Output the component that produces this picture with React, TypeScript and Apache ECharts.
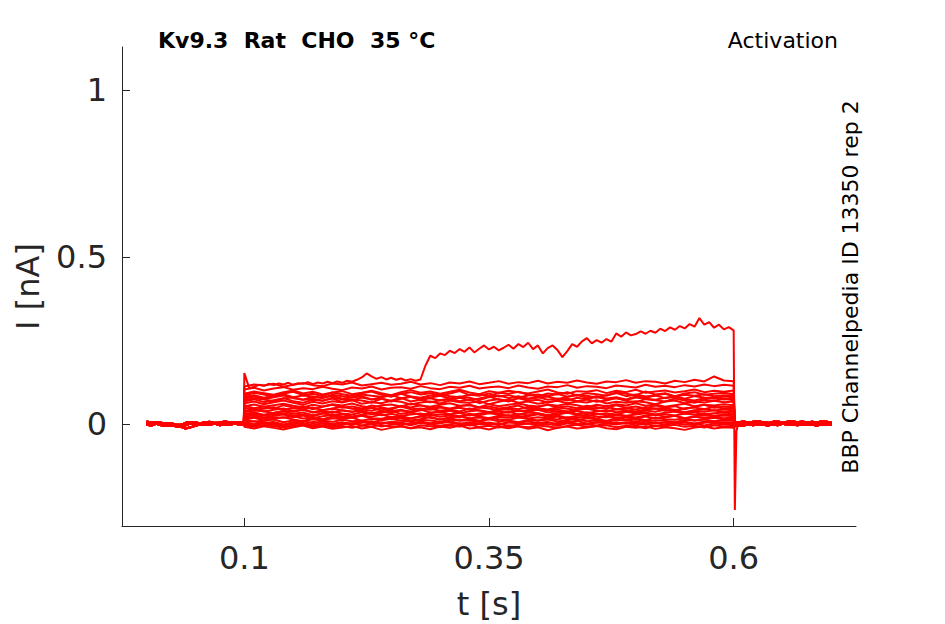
import React, { useEffect, useRef } from "react";
import * as echarts from "echarts";

// ---- time grids (s) ----
const PRE_T = [0.000, 0.005, 0.010, 0.015, 0.020, 0.025, 0.030, 0.035, 0.040, 0.045, 0.050, 0.055, 0.060, 0.065, 0.070, 0.075, 0.080, 0.085, 0.090, 0.095, 0.0995];
const PULSE_T = [0.10, 0.11, 0.12, 0.13, 0.14, 0.15, 0.16, 0.17, 0.18, 0.19, 0.20, 0.21, 0.22, 0.23, 0.24, 0.25, 0.26, 0.27, 0.28, 0.29, 0.30, 0.31, 0.32, 0.33, 0.34, 0.35, 0.36, 0.37, 0.38, 0.39, 0.40, 0.41, 0.42, 0.43, 0.44, 0.45, 0.46, 0.47, 0.48, 0.49, 0.50, 0.51, 0.52, 0.53, 0.54, 0.55, 0.56, 0.57, 0.58, 0.59, 0.60];
const POST_T = [0.601, 0.605, 0.610, 0.615, 0.620, 0.625, 0.630, 0.635, 0.640, 0.645, 0.650, 0.655, 0.660, 0.665, 0.670, 0.675, 0.680, 0.685, 0.690, 0.695, 0.700];
const TOP_T = [0.100, 0.105, 0.110, 0.115, 0.120, 0.125, 0.130, 0.135, 0.140, 0.145, 0.150, 0.155, 0.160, 0.165, 0.170, 0.175, 0.180, 0.185, 0.190, 0.195, 0.200, 0.205, 0.210, 0.215, 0.220, 0.225, 0.230, 0.235, 0.240, 0.245, 0.250, 0.255, 0.260, 0.265, 0.270, 0.275, 0.280, 0.285, 0.290, 0.295, 0.300, 0.305, 0.310, 0.315, 0.320, 0.325, 0.330, 0.335, 0.340, 0.345, 0.350, 0.355, 0.360, 0.365, 0.370, 0.375, 0.380, 0.385, 0.390, 0.395, 0.400, 0.405, 0.410, 0.415, 0.420, 0.425, 0.430, 0.435, 0.440, 0.445, 0.450, 0.455, 0.460, 0.465, 0.470, 0.475, 0.480, 0.485, 0.490, 0.495, 0.500, 0.505, 0.510, 0.515, 0.520, 0.525, 0.530, 0.535, 0.540, 0.545, 0.550, 0.555, 0.560, 0.565, 0.570, 0.575, 0.580, 0.585, 0.590, 0.595, 0.600];
const SPIKE_T = [0.6012, 0.6028];

// ---- baselines (nA) ----
const PRE_A = [0.004, 0.002, 0.003, 0.001, -0.002, 0.000, -0.006, -0.004, -0.003, 0.002, 0.001, 0.003, 0.000, 0.004, 0.002, 0.001, 0.003, 0.000, 0.002, 0.003, 0.002];
const PRE_B = [-0.002, -0.004, 0.001, -0.003, -0.005, -0.004, -0.006, -0.008, -0.013, -0.009, -0.005, 0.000, -0.002, -0.001, 0.001, -0.003, 0.000, -0.002, 0.001, -0.001, 0.000];
const PRE_C = [0.008, 0.005, 0.006, 0.004, 0.002, 0.003, -0.001, -0.002, 0.004, 0.006, 0.005, 0.003, 0.006, 0.007, 0.004, 0.005, 0.008, 0.006, 0.004, 0.006, 0.005];
const POST_A = [0.002, 0.004, 0.001, 0.003, 0.000, 0.002, 0.004, 0.001, 0.003, 0.005, 0.002, 0.000, 0.003, 0.004, 0.001, 0.002, 0.004, 0.003, 0.001, 0.002, 0.003];
const POST_B = [-0.006, -0.003, -0.004, -0.001, -0.003, 0.000, -0.002, -0.004, -0.001, -0.003, 0.001, -0.002, 0.000, -0.003, -0.001, 0.000, -0.002, -0.004, -0.001, 0.000, -0.002];
const POST_C = [0.007, 0.006, 0.008, 0.005, 0.007, 0.009, 0.006, 0.004, 0.007, 0.008, 0.005, 0.007, 0.009, 0.006, 0.008, 0.005, 0.007, 0.006, 0.008, 0.007, 0.005];

// ---- largest trace (nA) ----
const TOP = [0.153, 0.108, 0.112, 0.118, 0.115, 0.121, 0.117, 0.122, 0.119, 0.124, 0.118, 0.123, 0.121, 0.126, 0.120, 0.125, 0.122, 0.127, 0.123, 0.128, 0.124, 0.130, 0.127, 0.133, 0.140, 0.152, 0.143, 0.136, 0.141, 0.134, 0.139, 0.133, 0.137, 0.131, 0.135, 0.130, 0.134, 0.175, 0.205, 0.198, 0.212, 0.207, 0.220, 0.213, 0.225, 0.217, 0.230, 0.215, 0.226, 0.236, 0.224, 0.232, 0.221, 0.229, 0.238, 0.226, 0.240, 0.231, 0.244, 0.225, 0.236, 0.212, 0.228, 0.236, 0.222, 0.201, 0.219, 0.240, 0.232, 0.248, 0.258, 0.242, 0.252, 0.244, 0.255, 0.247, 0.272, 0.262, 0.275, 0.266, 0.270, 0.278, 0.271, 0.280, 0.274, 0.286, 0.279, 0.290, 0.283, 0.294, 0.287, 0.300, 0.292, 0.318, 0.298, 0.306, 0.289, 0.298, 0.284, 0.291, 0.281];
const SPIKE_V = [-0.257, -0.02];

// ---- other traces during the pulse (nA) ----
const T1 = [0.113, 0.119, 0.116, 0.121, 0.112, 0.118, 0.123, 0.117, 0.114, 0.122, 0.119, 0.125, 0.116, 0.120, 0.124, 0.118, 0.121, 0.127, 0.119, 0.123, 0.117, 0.125, 0.122, 0.128, 0.120, 0.124, 0.129, 0.121, 0.126, 0.123, 0.130, 0.122, 0.127, 0.124, 0.131, 0.125, 0.121, 0.128, 0.126, 0.132, 0.124, 0.129, 0.127, 0.122, 0.130, 0.126, 0.133, 0.128, 0.143, 0.131, 0.129];
const T2 = [0.104, 0.109, 0.101, 0.107, 0.111, 0.103, 0.108, 0.105, 0.112, 0.106, 0.102, 0.110, 0.107, 0.113, 0.104, 0.109, 0.111, 0.106, 0.114, 0.108, 0.105, 0.112, 0.109, 0.115, 0.107, 0.111, 0.113, 0.108, 0.116, 0.110, 0.106, 0.113, 0.111, 0.117, 0.109, 0.114, 0.112, 0.108, 0.116, 0.113, 0.110, 0.118, 0.112, 0.115, 0.111, 0.117, 0.113, 0.119, 0.114, 0.118, 0.115];
const T3 = [0.091, 0.098, 0.093, 0.088, 0.096, 0.101, 0.092, 0.097, 0.089, 0.095, 0.099, 0.090, 0.094, 0.100, 0.093, 0.087, 0.096, 0.102, 0.094, 0.098, 0.091, 0.097, 0.103, 0.095, 0.090, 0.099, 0.094, 0.100, 0.096, 0.092, 0.098, 0.104, 0.095, 0.091, 0.099, 0.097, 0.102, 0.093, 0.100, 0.096, 0.103, 0.094, 0.098, 0.101, 0.095, 0.099, 0.104, 0.096, 0.100, 0.097, 0.101];
const T4 = [0.082, 0.087, 0.079, 0.085, 0.090, 0.081, 0.086, 0.083, 0.078, 0.088, 0.084, 0.080, 0.089, 0.085, 0.082, 0.087, 0.091, 0.083, 0.079, 0.086, 0.090, 0.084, 0.081, 0.088, 0.085, 0.092, 0.083, 0.087, 0.080, 0.086, 0.089, 0.084, 0.091, 0.082, 0.088, 0.085, 0.079, 0.087, 0.093, 0.084, 0.089, 0.083, 0.086, 0.091, 0.082, 0.088, 0.085, 0.090, 0.084, 0.087, 0.086];
const T5 = [0.072, 0.078, 0.074, 0.069, 0.077, 0.081, 0.073, 0.076, 0.070, 0.079, 0.075, 0.071, 0.080, 0.074, 0.077, 0.068, 0.076, 0.082, 0.073, 0.078, 0.071, 0.075, 0.079, 0.072, 0.077, 0.083, 0.074, 0.070, 0.078, 0.076, 0.081, 0.073, 0.077, 0.071, 0.079, 0.075, 0.082, 0.074, 0.078, 0.072, 0.080, 0.076, 0.073, 0.079, 0.084, 0.075, 0.071, 0.078, 0.081, 0.074, 0.077];
const T6 = [0.063, 0.068, 0.060, 0.066, 0.071, 0.064, 0.058, 0.067, 0.062, 0.069, 0.065, 0.072, 0.061, 0.066, 0.063, 0.070, 0.067, 0.059, 0.065, 0.068, 0.062, 0.071, 0.066, 0.064, 0.069, 0.060, 0.067, 0.073, 0.064, 0.068, 0.061, 0.066, 0.070, 0.063, 0.068, 0.065, 0.072, 0.062, 0.067, 0.064, 0.069, 0.066, 0.060, 0.068, 0.071, 0.063, 0.067, 0.065, 0.070, 0.066, 0.068];
const T7 = [0.054, 0.059, 0.052, 0.057, 0.061, 0.055, 0.050, 0.058, 0.053, 0.060, 0.056, 0.062, 0.054, 0.049, 0.057, 0.059, 0.053, 0.061, 0.056, 0.052, 0.058, 0.063, 0.055, 0.057, 0.051, 0.060, 0.054, 0.058, 0.062, 0.056, 0.053, 0.059, 0.055, 0.061, 0.057, 0.050, 0.058, 0.054, 0.060, 0.056, 0.063, 0.055, 0.059, 0.052, 0.057, 0.061, 0.054, 0.058, 0.056, 0.060, 0.057];
const T8 = [0.049, 0.044, 0.046, 0.051, 0.043, 0.048, 0.045, 0.050, 0.042, 0.047, 0.052, 0.046, 0.044, 0.049, 0.041, 0.048, 0.053, 0.045, 0.047, 0.043, 0.050, 0.046, 0.049, 0.044, 0.051, 0.047, 0.042, 0.049, 0.045, 0.052, 0.048, 0.044, 0.050, 0.046, 0.043, 0.049, 0.047, 0.053, 0.045, 0.048, 0.044, 0.051, 0.046, 0.049, 0.042, 0.048, 0.050, 0.045, 0.052, 0.047, 0.049];
const T9 = [0.036, 0.041, 0.039, 0.033, 0.040, 0.037, 0.043, 0.035, 0.038, 0.034, 0.042, 0.037, 0.040, 0.032, 0.039, 0.036, 0.041, 0.038, 0.044, 0.035, 0.037, 0.040, 0.033, 0.039, 0.042, 0.036, 0.038, 0.034, 0.041, 0.037, 0.043, 0.035, 0.039, 0.036, 0.040, 0.033, 0.038, 0.042, 0.036, 0.039, 0.035, 0.041, 0.037, 0.044, 0.038, 0.034, 0.040, 0.037, 0.042, 0.036, 0.039];
const T10 = [0.027, 0.031, 0.025, 0.030, 0.033, 0.026, 0.029, 0.024, 0.032, 0.028, 0.030, 0.023, 0.028, 0.034, 0.027, 0.031, 0.025, 0.029, 0.032, 0.026, 0.030, 0.028, 0.024, 0.031, 0.027, 0.033, 0.029, 0.025, 0.030, 0.027, 0.032, 0.026, 0.029, 0.034, 0.028, 0.024, 0.031, 0.027, 0.030, 0.025, 0.029, 0.033, 0.027, 0.030, 0.026, 0.032, 0.028, 0.031, 0.025, 0.029, 0.030];
const T11 = [0.018, 0.022, 0.016, 0.021, 0.019, 0.024, 0.017, 0.020, 0.015, 0.023, 0.019, 0.021, 0.025, 0.018, 0.016, 0.022, 0.020, 0.017, 0.023, 0.019, 0.014, 0.021, 0.024, 0.018, 0.020, 0.016, 0.022, 0.019, 0.025, 0.017, 0.021, 0.018, 0.023, 0.015, 0.020, 0.022, 0.017, 0.024, 0.019, 0.021, 0.016, 0.023, 0.018, 0.020, 0.025, 0.017, 0.022, 0.019, 0.021, 0.018, 0.020];
const T12 = [0.012, 0.008, 0.010, 0.014, 0.006, 0.011, 0.009, 0.015, 0.010, 0.007, 0.013, 0.009, 0.011, 0.005, 0.012, 0.016, 0.010, 0.008, 0.013, 0.011, 0.007, 0.014, 0.010, 0.012, 0.008, 0.015, 0.009, 0.011, 0.006, 0.013, 0.010, 0.014, 0.008, 0.012, 0.016, 0.009, 0.011, 0.007, 0.013, 0.010, 0.015, 0.008, 0.012, 0.010, 0.006, 0.013, 0.011, 0.014, 0.009, 0.012, 0.010];
const T13 = [0.004, 0.000, 0.006, 0.002, -0.002, 0.005, 0.001, 0.007, 0.003, -0.001, 0.004, 0.002, 0.008, 0.000, 0.005, 0.003, -0.003, 0.004, 0.006, 0.001, 0.003, 0.007, -0.001, 0.004, 0.002, 0.005, 0.000, 0.006, 0.003, 0.001, 0.005, -0.002, 0.004, 0.007, 0.002, 0.000, 0.005, 0.003, 0.006, 0.001, 0.004, -0.001, 0.003, 0.006, 0.002, 0.005, 0.000, 0.004, 0.007, 0.003, 0.004];
const T14 = [-0.004, -0.008, -0.002, -0.006, -0.010, -0.005, -0.001, -0.007, -0.003, -0.009, -0.005, -0.011, -0.004, -0.007, -0.002, -0.008, -0.006, -0.012, -0.003, -0.006, -0.009, -0.004, -0.007, -0.001, -0.008, -0.005, -0.010, -0.003, -0.006, -0.009, -0.004, -0.007, -0.011, -0.005, -0.002, -0.008, -0.006, -0.003, -0.009, -0.005, -0.007, -0.012, -0.004, -0.006, -0.002, -0.008, -0.005, -0.010, -0.003, -0.007, -0.005];
const T15 = [0.086, 0.094, 0.089, 0.083, 0.092, 0.097, 0.087, 0.091, 0.084, 0.095, 0.090, 0.085, 0.093, 0.098, 0.088, 0.082, 0.091, 0.096, 0.089, 0.093, 0.086, 0.092, 0.099, 0.087, 0.090, 0.084, 0.094, 0.091, 0.097, 0.088, 0.083, 0.092, 0.089, 0.096, 0.086, 0.093, 0.090, 0.085, 0.095, 0.091, 0.087, 0.098, 0.089, 0.093, 0.084, 0.092, 0.096, 0.088, 0.091, 0.094, 0.090];
const T16 = [0.068, 0.075, 0.066, 0.072, 0.078, 0.069, 0.064, 0.073, 0.070, 0.077, 0.067, 0.074, 0.071, 0.065, 0.076, 0.070, 0.079, 0.068, 0.073, 0.066, 0.072, 0.077, 0.069, 0.074, 0.063, 0.071, 0.075, 0.068, 0.078, 0.070, 0.073, 0.065, 0.072, 0.076, 0.069, 0.074, 0.067, 0.071, 0.079, 0.070, 0.066, 0.075, 0.072, 0.068, 0.077, 0.071, 0.064, 0.073, 0.070, 0.076, 0.072];
const T17 = [0.055, 0.048, 0.053, 0.046, 0.057, 0.050, 0.054, 0.045, 0.052, 0.058, 0.049, 0.053, 0.047, 0.056, 0.051, 0.044, 0.055, 0.050, 0.057, 0.048, 0.052, 0.046, 0.054, 0.059, 0.049, 0.053, 0.047, 0.051, 0.056, 0.045, 0.052, 0.058, 0.050, 0.054, 0.048, 0.055, 0.051, 0.046, 0.057, 0.049, 0.053, 0.047, 0.056, 0.050, 0.054, 0.045, 0.052, 0.058, 0.049, 0.053, 0.051];
const T18 = [0.030, 0.036, 0.028, 0.034, 0.039, 0.031, 0.035, 0.027, 0.033, 0.038, 0.032, 0.029, 0.036, 0.030, 0.034, 0.040, 0.031, 0.035, 0.028, 0.033, 0.037, 0.030, 0.034, 0.026, 0.032, 0.036, 0.031, 0.038, 0.029, 0.035, 0.033, 0.027, 0.034, 0.039, 0.031, 0.036, 0.030, 0.033, 0.028, 0.037, 0.032, 0.035, 0.029, 0.034, 0.038, 0.031, 0.036, 0.030, 0.033, 0.035, 0.032];
const T19 = [0.013, 0.019, 0.011, 0.016, 0.021, 0.014, 0.009, 0.017, 0.012, 0.018, 0.015, 0.020, 0.010, 0.016, 0.013, 0.019, 0.017, 0.011, 0.015, 0.022, 0.014, 0.018, 0.012, 0.016, 0.010, 0.019, 0.015, 0.013, 0.020, 0.016, 0.011, 0.017, 0.014, 0.021, 0.012, 0.018, 0.015, 0.010, 0.019, 0.014, 0.017, 0.012, 0.020, 0.015, 0.013, 0.018, 0.011, 0.016, 0.019, 0.014, 0.016];
const T20 = [0.001, -0.004, 0.003, -0.002, -0.006, 0.000, 0.004, -0.003, 0.002, -0.005, -0.001, 0.003, -0.004, 0.001, -0.007, -0.002, 0.002, -0.003, 0.004, -0.001, -0.005, 0.000, 0.003, -0.004, 0.001, -0.002, 0.004, -0.006, -0.001, 0.002, -0.003, 0.001, -0.005, 0.003, -0.002, 0.000, -0.004, 0.002, -0.001, 0.004, -0.003, 0.001, -0.006, 0.000, 0.003, -0.002, 0.001, -0.004, 0.002, -0.001, 0.000];
const T21 = [0.077, 0.083, 0.075, 0.081, 0.086, 0.078, 0.073, 0.082, 0.079, 0.085, 0.076, 0.080, 0.084, 0.074, 0.081, 0.087, 0.078, 0.082, 0.075, 0.080, 0.085, 0.077, 0.083, 0.079, 0.072, 0.081, 0.086, 0.078, 0.084, 0.076, 0.080, 0.083, 0.075, 0.082, 0.087, 0.079, 0.084, 0.077, 0.081, 0.074, 0.083, 0.079, 0.086, 0.078, 0.082, 0.076, 0.084, 0.080, 0.077, 0.083, 0.081];
const T22 = [0.040, 0.045, 0.038, 0.043, 0.047, 0.039, 0.044, 0.036, 0.042, 0.046, 0.041, 0.037, 0.045, 0.040, 0.048, 0.039, 0.043, 0.035, 0.042, 0.046, 0.040, 0.044, 0.038, 0.047, 0.041, 0.036, 0.043, 0.045, 0.039, 0.042, 0.048, 0.040, 0.044, 0.037, 0.043, 0.046, 0.041, 0.039, 0.045, 0.042, 0.038, 0.044, 0.047, 0.040, 0.043, 0.036, 0.042, 0.045, 0.041, 0.044, 0.042];
const T23 = [0.022, 0.027, 0.020, 0.025, 0.029, 0.021, 0.026, 0.018, 0.024, 0.028, 0.023, 0.019, 0.026, 0.022, 0.030, 0.021, 0.025, 0.017, 0.024, 0.028, 0.022, 0.026, 0.020, 0.029, 0.023, 0.018, 0.025, 0.027, 0.021, 0.024, 0.030, 0.022, 0.026, 0.019, 0.025, 0.028, 0.023, 0.021, 0.027, 0.024, 0.020, 0.026, 0.029, 0.022, 0.025, 0.018, 0.024, 0.027, 0.023, 0.026, 0.024];
const T24 = [0.004, 0.009, 0.002, 0.007, -0.001, 0.005, 0.010, 0.003, 0.008, 0.001, 0.006, -0.002, 0.004, 0.009, 0.002, 0.007, 0.005, -0.001, 0.008, 0.003, 0.006, 0.010, 0.001, 0.005, 0.008, 0.002, -0.003, 0.006, 0.004, 0.009, 0.003, 0.007, 0.000, 0.005, 0.010, 0.002, 0.006, 0.008, 0.001, 0.004, 0.009, 0.003, 0.006, -0.002, 0.005, 0.007, 0.002, 0.008, 0.004, 0.006, 0.005];
const T25 = [-0.008, -0.013, -0.006, -0.011, -0.016, -0.009, -0.004, -0.012, -0.007, -0.014, -0.010, -0.005, -0.013, -0.008, -0.017, -0.011, -0.006, -0.012, -0.009, -0.015, -0.007, -0.011, -0.004, -0.013, -0.010, -0.016, -0.008, -0.012, -0.006, -0.014, -0.009, -0.018, -0.011, -0.007, -0.013, -0.010, -0.005, -0.012, -0.015, -0.008, -0.011, -0.006, -0.014, -0.009, -0.012, -0.017, -0.010, -0.007, -0.013, -0.009, -0.011];

// ---- axis ticks ----
const X_TICKS = [0.1, 0.35, 0.6];
const Y_TICKS = [0, 0.5, 1];

const TITLE = "Kv9.3  Rat  CHO  35 °C";
const PROTOCOL = "Activation";
const SOURCE = "BBP Channelpedia ID 13350 rep 2";

const FONT = "DejaVu Sans";
const INK = "#262626";
const RED = "#ff0000";

type Pt = [number, number];
const zip = (ts: number[], vs: number[]): Pt[] =>
  ts.map((t, i) => [t, vs[i]] as Pt).filter((p) => p[1] !== undefined);

export default function App() {
  const ref = useRef<HTMLDivElement>(null);
  useEffect(() => {
    if (!ref.current) return;
    const chart = echarts.init(ref.current, undefined, { renderer: "svg" });
    const pres = [PRE_A, PRE_B, PRE_C];
    const posts = [POST_A, POST_B, POST_C];
    const others = [T1, T2, T3, T4, T5, T6, T7, T8, T9, T10, T11, T12, T13, T14, T15, T16, T17, T18, T19, T20, T21, T22, T23, T24, T25];
    const lineBase = {
      type: "line",
      showSymbol: false,
      symbol: "none",
      silent: true,
      lineStyle: { color: RED, width: 2 },
      itemStyle: { color: RED },
    };
    const series: any[] = others.map((tr, i) => ({
      ...lineBase,
      data: [
        ...zip(PRE_T, pres[i % 3]),
        ...zip(PULSE_T, tr),
        ...zip(POST_T, posts[i % 3]),
      ],
    }));
    series.push({
      ...lineBase,
      data: [
        ...zip(PRE_T, PRE_A),
        ...zip(TOP_T, TOP),
        ...zip(SPIKE_T, SPIKE_V),
        ...zip(POST_T.slice(1), POST_A.slice(1)),
      ],
    });
    chart.setOption({
      animation: false,
      backgroundColor: "#ffffff",
      grid: { left: 122, right: 89, top: 47, bottom: 98, containLabel: false, outerBoundsMode: "none" },
      xAxis: {
        type: "value",
        min: -0.025,
        max: 0.725,
        name: "t [s]",
        nameLocation: "middle",
        nameGap: 62,
        nameTextStyle: { fontSize: 32, color: INK, fontFamily: FONT },
        axisLine: { show: true, onZero: false, lineStyle: { color: INK, width: 1 } },
        axisTick: { show: true, inside: true, length: 8, customValues: X_TICKS, lineStyle: { color: INK } },
        axisLabel: { customValues: X_TICKS, fontSize: 32, color: INK, fontFamily: FONT, margin: 16 },
        splitLine: { show: false },
      },
      yAxis: {
        type: "value",
        min: -0.305,
        max: 1.13,
        name: "I [nA]",
        nameLocation: "middle",
        nameGap: 78,
        nameTextStyle: { fontSize: 32, color: INK, fontFamily: FONT },
        axisLine: { show: true, onZero: false, lineStyle: { color: INK, width: 1 } },
        axisTick: { show: true, inside: true, length: 8, customValues: Y_TICKS, lineStyle: { color: INK } },
        axisLabel: { customValues: Y_TICKS, fontSize: 32, color: INK, fontFamily: FONT, margin: 15 },
        splitLine: { show: false },
      },
      graphic: [
        {
          type: "text",
          x: 158,
          y: 40,
          style: { text: TITLE, fontSize: 22, fontWeight: "bold", fontFamily: FONT, fill: "#000", align: "left", verticalAlign: "middle" },
        },
        {
          type: "text",
          x: 838,
          y: 40,
          style: { text: PROTOCOL, fontSize: 22, fontFamily: FONT, fill: "#000", align: "right", verticalAlign: "middle" },
        },
        {
          type: "text",
          x: 850,
          y: 287,
          rotation: Math.PI / 2,
          style: { text: SOURCE, fontSize: 22, fontFamily: FONT, fill: "#000", align: "center", verticalAlign: "middle" },
        },
      ],
      series,
    });
    return () => chart.dispose();
  }, []);
  return (
    <div
      ref={ref}
      style={{ position: "absolute", left: 0, top: 0, width: 945, height: 624, background: "#fff" }}
    />
  );
}
